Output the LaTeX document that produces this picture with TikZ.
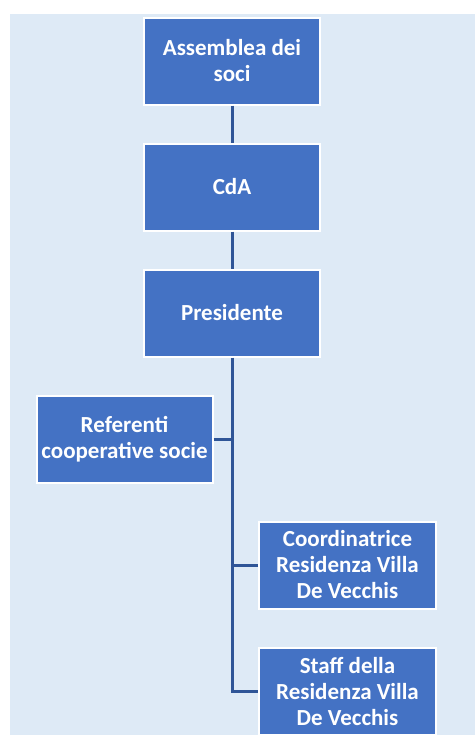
\documentclass[tikz,border=0pt]{standalone}
\usepackage{fontspec}
\setmainfont{Carlito}
\usetikzlibrary{positioning}
\definecolor{BluScuro}{RGB}{47,85,151}
\definecolor{BluMedio}{RGB}{68,114,196}
\definecolor{BluPalido}{RGB}{222,234,246}
\begin{document}
\begin{tikzpicture}[x=1pt, y=1pt, node distance=37pt,
    casella/.style={draw=white, line width=2pt, fill=BluMedio, text=white, align=center,
      minimum width=176pt, minimum height=87pt, inner sep=1pt, font=\fontsize{23}{26}\selectfont\bfseries},
    filo/.style={BluScuro, line width=3pt}]
        \useasboundingbox (0,0) rectangle (475,-736);
        \fill[BluPalido] (10,-14) rectangle (475,-735);
        \node[casella] (assemblea) at (232,-61) {Assemblea dei\\soci};
        \node[casella, below=of assemblea] (cda) {CdA};
        \node[casella, below=of cda] (presidente) {Presidente};

        \node[casella, below=of presidente, xshift=-107.5pt] (referenti)
          {Referenti\\cooperative socie};
        \node[casella, minimum width=177pt, below=of referenti, xshift=223pt] (coordinatrice)
          {Coordinatrice\\Residenza Villa\\De Vecchis};
        \node[casella, minimum width=177pt, below=of coordinatrice] (staff)
          {Staff della\\Residenza Villa\\De Vecchis};

        \draw[filo] (assemblea) -- (cda);
        \draw[filo] (cda) -- (presidente);
        \draw[filo] (presidente.south) |- (staff.west);
        \draw[filo] (referenti.east) -- (referenti.east -| presidente.south);
        \draw[filo] (coordinatrice.west) -- (coordinatrice.west -| presidente.south);
      \end{tikzpicture}
\end{document}
